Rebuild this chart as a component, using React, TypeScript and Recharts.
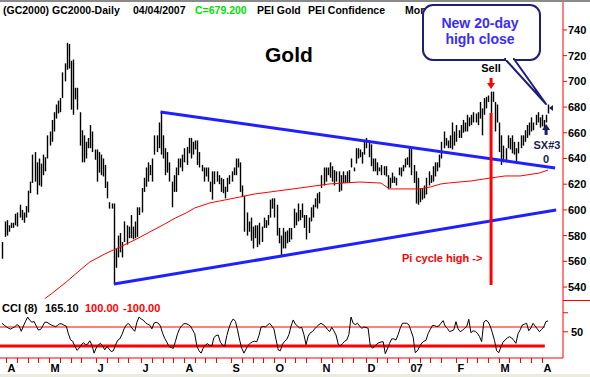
import React from 'react';
import { ComposedChart, Bar, Line, XAxis, YAxis, ReferenceLine, ReferenceDot } from 'recharts';

const FONT = 'Liberation Sans, Arial, sans-serif';

// daily highs / lows, Apr 2006 - Apr 4 2007
const highs = [
  575, 591, 592, 588, 590, 590, 597, 598, 604, 600,
  598, 603, 615, 622, 643, 645, 637, 640, 636, 643,
  641, 658, 661, 670, 676, 682, 685, 687, 707, 714,
  730, 729, 716, 717, 695, 695, 676, 662, 658, 653,
  656, 666, 661, 647, 647, 645, 643, 640, 635, 622,
  606, 605, 605, 570, 580, 582, 575, 591, 588, 587,
  596, 587, 591, 602, 602, 617, 625, 633, 637, 635,
  640, 658, 658, 668, 676, 658, 648, 645, 637, 622,
  627, 633, 640, 640, 643, 648, 649, 656, 656, 653,
  654, 654, 645, 635, 633, 633, 633, 622, 630, 630,
  630, 627, 625, 624, 618, 625, 627, 630, 633, 640,
  640, 637, 619, 611, 598, 591, 594, 587, 588, 588,
  590, 587, 594, 592, 596, 608, 609, 609, 604, 586,
  580, 586, 583, 584, 586, 586, 601, 598, 605, 600,
  605, 596, 596, 594, 602, 604, 609, 613, 614, 627,
  633, 633, 633, 637, 634, 631, 630, 630, 627, 630,
  627, 630, 631, 640, 633, 648, 648, 647, 645, 654,
  656, 653, 651, 640, 640, 637, 633, 635, 634, 634,
  627, 625, 629, 626, 625, 633, 633, 635, 640, 641,
  648, 648, 635, 630, 625, 617, 617, 619, 625, 630,
  627, 634, 637, 637, 643, 653, 661, 656, 654, 658,
  668, 661, 666, 662, 666, 670, 668, 674, 672, 674,
  676, 675, 676, 684, 679, 687, 688, 689, 692, 692,
  684, 682, 668, 658, 650, 648, 658, 656, 658, 653,
  648, 653, 658, 658, 662, 666, 668, 672, 668, 674,
  676, 672, 674, 670, 674, 682,
];

const lows = [
  562, 579, 580, 583, 586, 586, 588, 587, 594, 592,
  590, 594, 598, 613, 621, 622, 612, 619, 618, 627,
  630, 640, 650, 653, 661, 671, 675, 676, 687, 700,
  709, 710, 678, 674, 686, 678, 650, 637, 637, 640,
  648, 648, 645, 639, 622, 629, 627, 626, 617, 609,
  601, 601, 542, 555, 563, 567, 563, 575, 573, 578,
  578, 577, 578, 579, 596, 598, 614, 618, 622, 627,
  622, 643, 645, 648, 643, 640, 627, 629, 622, 602,
  614, 614, 627, 633, 630, 637, 635, 644, 640, 643,
  647, 635, 633, 630, 622, 626, 622, 614, 608, 620,
  622, 620, 614, 613, 609, 614, 620, 622, 627, 627,
  633, 614, 610, 583, 580, 583, 576, 570, 578, 571,
  573, 575, 586, 586, 588, 594, 601, 594, 580, 574,
  565, 570, 570, 574, 575, 577, 586, 588, 591, 592,
  594, 586, 577, 582, 591, 594, 602, 601, 605, 617,
  619, 622, 627, 625, 622, 619, 622, 614, 615, 621,
  621, 621, 621, 633, 630, 636, 640, 641, 636, 643,
  648, 641, 634, 630, 630, 627, 630, 627, 627, 626,
  616, 617, 621, 621, 619, 627, 626, 630, 633, 635,
  633, 627, 621, 605, 604, 606, 608, 609, 612, 619,
  621, 622, 626, 630, 633, 640, 648, 650, 648, 648,
  647, 650, 653, 656, 656, 660, 661, 661, 665, 666,
  668, 668, 666, 671, 658, 674, 679, 684, 675, 684,
  661, 668, 645, 635, 637, 637, 648, 647, 644, 643,
  637, 644, 648, 650, 653, 656, 658, 661, 662, 666,
  668, 664, 665, 662, 668, 675,
];

// CCI (8)
const cci = [
  139, 120, 103, 88, 78, 90, 103, 125, 110, 55,
  110, 160, 205, 170, 150, 158, 110, 68, 74, 110,
  150, 150, 135, 122, 112, 104, 118, 135, 132, 118,
  110, 30, -35, -50, -100, -145, -125, -90, -65, -85,
  -80, -45, -90, -175, -120, -88, -72, -100, -140, -105,
  -130, -158, -150, -90, -40, -25, 20, 80, 120, 138,
  110, 80, 55, 150, 205, 185, 172, 145, 130, 120,
  80, 140, 150, 140, 110, 35, -20, -60, -105, -115,
  -125, -50, 30, 85, 115, 135, 135, 125, 110, 70,
  30, -100, -150, -175, -120, -90, -75, -95, -100, -10,
  10, 15, -60, -90, -105, 10, 90, 150, 185, 160,
  70, -40, -125, -175, -130, -90, -70, -55, -50, -55,
  10, 100, 105, 100, 120, 138, 110, 80, -35, -140,
  -150, -80, -50, -30, 20, 110, 174, 130, 110, 90,
  95, 20, -85, 5, 40, 51, 80, 103, 125, 139,
  125, 105, 75, 51, 96, 60, 16, -80, -100, -75,
  -50, -37, 20, 205, 140, 125, 139, 110, 86, 100,
  95, 86, -100, -120, -107, -80, -65, -58, -54, -180,
  -130, -72, -25, -25, -37, 20, 90, 139, 140, 139,
  125, 60, -5, -170, -150, -107, -70, -50, -40, 30,
  75, 115, 115, 105, 110, 140, 167, 110, 85, 51,
  60, 70, 156, 80, 51, 65, 85, 103, 181, 40,
  60, 55, 35, 0, -54, 150, 170, 156, 110, 40,
  -40, -150, -170, -110, -60, -35, -15, -2, -15, -40,
  -72, 30, 70, 121, 130, 139, 60, 90, 139, 110,
  80, 51, 75, 100, 156, 165,
];

// red moving average, read at sparse bars
const maBars = [20, 23, 30, 36, 41, 48, 55, 62, 69, 76, 81, 86, 90, 97, 104, 111, 118, 125, 139, 153, 167, 177, 181, 191, 195, 200, 205, 209, 219, 228, 235, 242, 251, 255];
const maValues = [531, 534.6, 543.9, 552.5, 559.5, 565.7, 571.1, 576.6, 582.8, 589.0, 593.7, 597.6, 601.5, 605.4, 607.7, 610.0, 612.4, 613.9, 617.0, 620.2, 621.7, 620.9, 616.3, 616.3, 616.3, 617.8, 620.2, 621.0, 622.5, 624.8, 626.4, 626.4, 628.7, 631.0];

const monthTicks = [2, 22, 44, 65, 85, 107, 127, 149, 170, 190, 212, 232, 252];
const monthLabels = ['A', 'M', 'J', 'J', 'A', 'S', 'O', 'N', 'D', '07', 'F', 'M', 'A'];
const priceTicks = [540, 560, 580, 600, 620, 640, 660, 680, 700, 720, 740];

const upperTrend = [{ x: 74, y: 676.2 }, { x: 258.3, y: 632.6 }];
const lowerTrend = [{ x: 52.3, y: 542.3 }, { x: 258.8, y: 599.9 }];
const piCycle = [{ x: 228.4, y: 675.4 }, { x: 228.4, y: 541.6 }];

const data = highs.map((h, i) => ({ i, range: [lows[i], h], cci: cci[i], ma: null as number | null }));
maBars.forEach((b, k) => { data[b].ma = maValues[k]; });

const minorTicks: number[] = [];
monthTicks.forEach((m, k) => {
  const next = monthTicks[k + 1] ?? 256;
  for (let t = m + 5; t < next - 2; t += 5) minorTicks.push(t);
});
const dateTicks = [...monthTicks, ...minorTicks].sort((a, b) => a - b);

const X_DOMAIN: [number, number] = [-0.934, 262];

const HLBar = (props: any) => {
  const { x, y, width, height } = props;
  if (x == null || y == null) return null;
  const cx = Math.round(x + width / 2) + 0.5;
  const top = Math.min(y, y + height);
  const bottom = Math.max(y, y + height);
  return <line x1={cx} x2={cx} y1={top} y2={bottom} stroke="#000" strokeWidth={1.4} />;
};

const DateTick = (props: any) => {
  const { x, y, payload } = props;
  const k = monthTicks.indexOf(payload.value);
  const px = Math.round(x) + 0.5;
  return (
    <g>
      <line x1={px} x2={px} y1={y} y2={y + 5} stroke="#ff0000" />
      {k >= 0 && (
        <text x={px + 1} y={y + 14} fontSize={11} fontWeight="bold" fontFamily={FONT} fill="#000">
          {monthLabels[k]}
        </text>
      )}
    </g>
  );
};

const SellArrow = (props: any) => {
  const { cx, cy } = props;
  return (
    <g>
      <text x={cx} y={cy - 11} textAnchor="middle" fontSize={11} fontWeight="bold" fontFamily={FONT} fill="#000">Sell</text>
      <rect x={cx - 1.5} y={cy - 5} width={3} height={6} fill="#ff0000" />
      <polygon points={`${cx - 4},${cy} ${cx + 4},${cy} ${cx},${cy + 6}`} fill="#ff0000" />
    </g>
  );
};

const SxArrow = (props: any) => {
  const { cx, cy } = props;
  return (
    <g>
      <polygon points={`${cx - 4},${cy} ${cx + 4},${cy} ${cx},${cy - 6}`} fill="#1c1c6a" />
      <rect x={cx - 1.5} y={cy} width={3} height={5} fill="#1c1c6a" />
    </g>
  );
};

const TipMark = (props: any) => {
  const { cx, cy } = props;
  return <polygon points={`${cx + 1},${cy} ${cx + 5},${cy - 3} ${cx + 5},${cy + 3}`} fill="#1c1c6a" />;
};

const txt = { fontFamily: FONT, fontWeight: 'bold' as const };

export default function App() {
  return (
    <div style={{ position: 'absolute', left: 0, top: 0, width: 590, height: 377, background: '#fff', overflow: 'hidden' }}>
      <div style={{ position: 'absolute', left: 0, top: 0 }}>
        <ComposedChart width={590} height={300} data={data} margin={{ top: 0, right: 0, bottom: 0, left: 0 }}>
          <XAxis dataKey="i" type="number" domain={X_DOMAIN} hide allowDataOverflow />
          <YAxis
            orientation="right"
            width={27}
            domain={[529.9, 763.3]}
            ticks={priceTicks}
            interval={0}
            allowDataOverflow
            axisLine={{ stroke: '#ff0000' }}
            tickLine={{ stroke: '#ff0000' }}
            tickSize={4}
            tickMargin={1}
            tick={{ fill: '#000', fontSize: 11, fontWeight: 'bold', fontFamily: FONT }}
          />
          <Bar dataKey="range" shape={<HLBar />} barSize={1} isAnimationActive={false} />
          <Line dataKey="ma" stroke="#ff0000" strokeWidth={1} dot={false} connectNulls isAnimationActive={false} />
          <ReferenceLine segment={upperTrend} stroke="#1f1fff" strokeWidth={3} />
          <ReferenceLine segment={lowerTrend} stroke="#1f1fff" strokeWidth={3} />
          <ReferenceLine segment={piCycle} stroke="#ff0000" strokeWidth={3} />
          <ReferenceDot x={228.4} y={698.8} r={0} shape={<SellArrow />} />
          <ReferenceDot x={254.1} y={662.2} r={0} shape={<SxArrow />} />
          <ReferenceDot x={255} y={679.2} r={0} shape={<TipMark />} />
        </ComposedChart>
      </div>
      <div style={{ position: 'absolute', left: 0, top: 300 }}>
        <ComposedChart width={590} height={77} data={data} margin={{ top: 0, right: 0, bottom: 0, left: 0 }}>
          <XAxis
            dataKey="i"
            type="number"
            domain={X_DOMAIN}
            allowDataOverflow
            ticks={dateTicks}
            interval={0}
            height={19}
            tickSize={0}
            tickMargin={0}
            tickLine={false}
            axisLine={{ stroke: '#ff0000' }}
            tick={<DateTick />}
          />
          <YAxis
            orientation="right"
            width={27}
            domain={[-226, 384]}
            allowDataOverflow
            ticks={[50, 250]}
            interval={0}
            tickFormatter={(v: number) => (v === 50 ? '50' : '')}
            axisLine={{ stroke: '#ff0000' }}
            tickLine={{ stroke: '#ff0000' }}
            tickSize={5}
            tickMargin={3}
            tick={{ fill: '#000', fontSize: 11, fontWeight: 'bold', fontFamily: FONT }}
          />
          <ReferenceLine segment={[{ x: -0.934, y: 100 }, { x: 253.5, y: 100 }]} stroke="#ff0000" strokeWidth={1} />
          <ReferenceLine segment={[{ x: -0.934, y: -100 }, { x: 253.5, y: -100 }]} stroke="#ff0000" strokeWidth={3} />
          <Line dataKey="cci" stroke="#000" strokeWidth={1} dot={false} isAnimationActive={false} />
        </ComposedChart>
      </div>
      <svg width={590} height={377} style={{ position: 'absolute', left: 0, top: 0, pointerEvents: 'none' }}>
        <rect x={0} y={0} width={590} height={2} fill="#8a8a8a" />
        <line x1={563} x2={590} y1={300.5} y2={300.5} stroke="#ff0000" />
        <rect x={0} y={374} width={590} height={3} fill="#ecebe0" />
        <g fontSize={10.5} {...txt}>
          <text x={3} y={14} fill="#000">(GC2000) GC2000-Daily</text>
          <text x={133} y={14} fill="#000">04/04/2007</text>
          <text x={195} y={14} fill="#00e000">C=679.200</text>
          <text x={257} y={14} fill="#000">PEI Gold</text>
          <text x={308} y={14} fill="#000">PEI Confidence</text>
          <text x={405} y={14} fill="#000">Mom</text>
        </g>
        <text x={265} y={62} fontSize={21} {...txt} fill="#000">Gold</text>
        <text x={402} y={262} fontSize={11} {...txt} fill="#ff0000">Pi cycle high -&gt;</text>
        <text x={547} y={149} fontSize={11} {...txt} fill="#1c1c50" textAnchor="middle">SX#3</text>
        <text x={546} y={163} fontSize={11} {...txt} fill="#1c1c50" textAnchor="middle">0</text>
        <rect x={423} y={5} width={117} height={55} rx={10} fill="#fff" stroke="#1e1e7a" strokeWidth={2} />
        <polygon points="505,59 514,59 546,104" fill="#fff" stroke="#1e1e7a" strokeWidth={2} strokeLinejoin="round" />
        <rect x={506} y={57} width={7} height={3} fill="#fff" />
        <text x={480} y={28} fontSize={14} {...txt} fill="#3a2cff" textAnchor="middle">New 20-day</text>
        <text x={480} y={44} fontSize={14} {...txt} fill="#3a2cff" textAnchor="middle">high close</text>
        <g fontSize={11} {...txt}>
          <text x={2} y={312} fill="#000">CCI (8)</text>
          <text x={45} y={312} fill="#000">165.10</text>
          <text x={85} y={312} fill="#ff0000">100.00</text>
          <text x={123} y={312} fill="#ff0000">-100.00</text>
        </g>
      </svg>
    </div>
  );
}
